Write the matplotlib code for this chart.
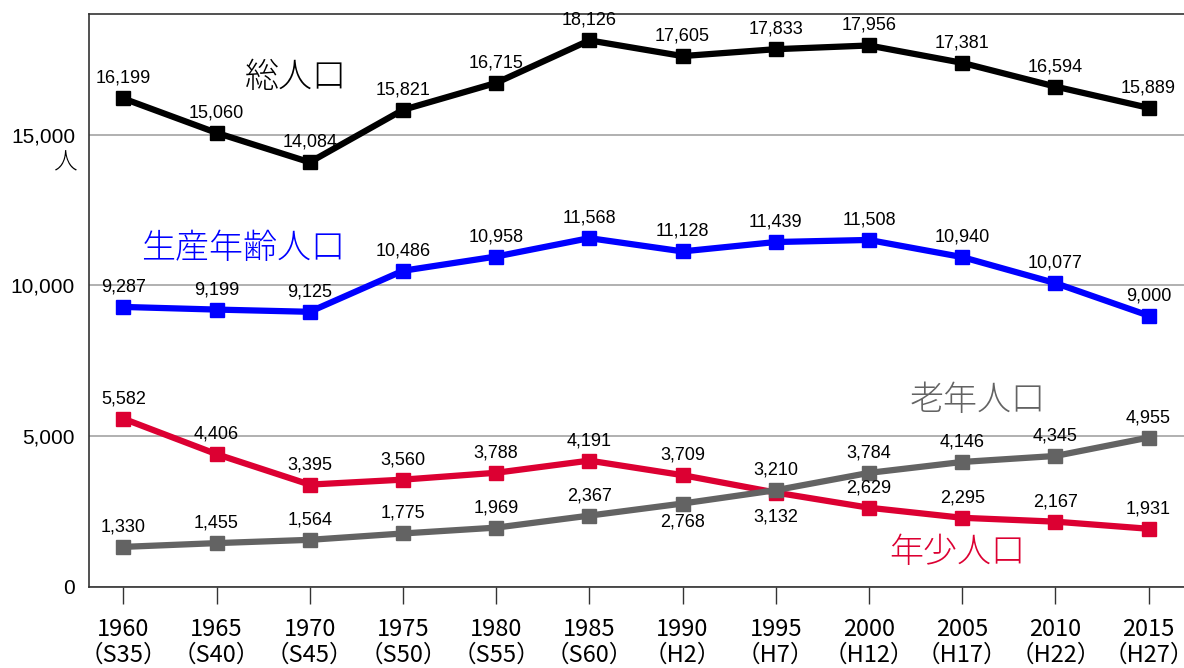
import numpy as np
import matplotlib.pyplot as plt

plt.rcParams['font.family'] = ['Noto Sans CJK JP', 'DejaVu Sans']

years = ["1960", "1965", "1970", "1975", "1980", "1985",
         "1990", "1995", "2000", "2005", "2010", "2015"]
eras = ["S35", "S40", "S45", "S50", "S55", "S60",
        "H2", "H7", "H12", "H17", "H22", "H27"]

total = [16199, 15060, 14084, 15821, 16715, 18126,
         17605, 17833, 17956, 17381, 16594, 15889]
working = [9287, 9199, 9125, 10486, 10958, 11568,
           11128, 11439, 11508, 10940, 10077, 9000]
young = [5582, 4406, 3395, 3560, 3788, 4191,
         3709, 3132, 2629, 2295, 2167, 1931]
elderly = [1330, 1455, 1564, 1775, 1969, 2367,
           2768, 3210, 3784, 4146, 4345, 4955]

yticks = [0, 5000, 10000, 15000]

x = np.arange(len(years))

fig = plt.figure(figsize=(11.84, 6.68), dpi=100)
ax = fig.add_axes([89 / 1184, 1 - 587 / 668, 1 - 89 / 1184, (587 - 14) / 668])

num_font = ['Liberation Sans Narrow', 'Liberation Sans', 'DejaVu Sans']

# gray drawn after red so its marker sits on top where they cross
series = [
    (total, "#000000", "総人口", (296, 77), {}),
    (working, "#0000ff", "生産年齢人口", (243, 248), {}),
    (young, "#dc0032", "年少人口", (957, 552), {7: -24}),
    (elderly, "#636363", "老年人口", (978, 400), {6: -18}),
]

for vals, color, name, (tx, ty), below in series:
    ax.plot(x, vals, color=color, lw=4.5, marker="s", ms=10,
            solid_joinstyle="miter", zorder=3)
    for i, v in enumerate(vals):
        dy = below.get(i, 20)
        ax.annotate(f"{v:,}", (x[i], v), xytext=(0, dy), textcoords="offset pixels",
                    ha="center", va="center", fontsize=13, family=num_font,
                    color="#000000", zorder=4)
    ax.text(tx / 1184, 1 - ty / 668, name, transform=fig.transFigure,
            ha="center", va="center", fontsize=24.5, color=color, fontweight="light")

ax.set_xlim(-0.368, 11.38)
ax.set_ylim(0, 19000)

ax.set_yticks(yticks)
ax.set_yticklabels([f"{t:,}" for t in yticks], fontsize=15, family=num_font[1:])
ax.tick_params(axis="y", length=0, pad=10)
fig.text(65 / 1184, 1 - 163 / 668, "人", ha="center", va="center",
         fontsize=17, fontweight="light")

ax.set_xticks(x)
ax.set_xticklabels([f"{y}\n（{e}）" for y, e in zip(years, eras)], fontsize=17,
                   linespacing=1.2)
ax.tick_params(axis="x", length=12, width=1, color="#333333", pad=10)

ax.grid(axis="y", color="#aaaaaa", lw=1.3)
ax.set_axisbelow(True)

for s in ["left", "bottom", "top"]:
    ax.spines[s].set_color("#333333")
    ax.spines[s].set_linewidth(1.2)
ax.spines["right"].set_visible(False)

fig.savefig("out.png", dpi=100)
